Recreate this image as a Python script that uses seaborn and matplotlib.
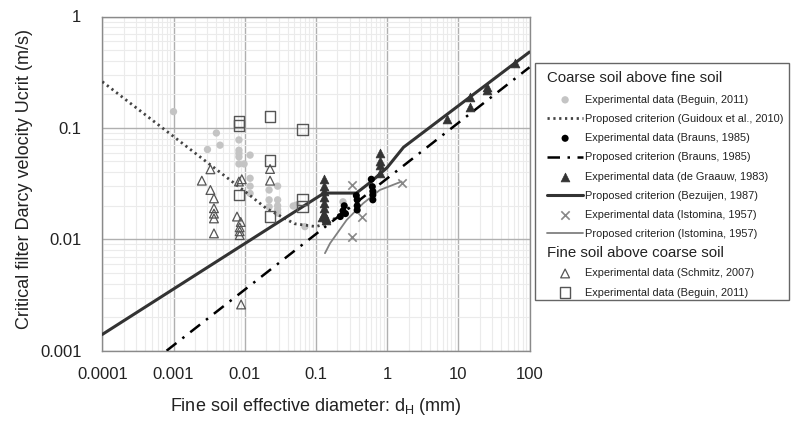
import numpy as np
import pandas as pd
import matplotlib
matplotlib.use("Agg")
import matplotlib.pyplot as plt
import seaborn as sns
from matplotlib.patches import Rectangle
from matplotlib.ticker import FixedLocator, NullFormatter, LogLocator

# ---------------- data ----------------
beg_coarse_x = [0.001, 0.004, 0.0045, 0.003, 0.0083, 0.0083, 0.0083, 0.0083, 0.0083, 0.0098,
                0.0119, 0.0119, 0.0119, 0.0119, 0.022, 0.022, 0.022, 0.029, 0.029, 0.029,
                0.029, 0.029, 0.0535, 0.048, 0.07, 0.24]
beg_coarse_y = [0.14, 0.09, 0.07, 0.064, 0.078, 0.063, 0.059, 0.055, 0.0475, 0.0475,
                0.057, 0.0353, 0.030, 0.0258, 0.0277, 0.0226, 0.0196, 0.030, 0.0226, 0.020,
                0.0185, 0.0172, 0.0203, 0.0199, 0.013, 0.0217]

guid_x = [0.0001, 0.01, 0.02, 0.05, 0.1, 0.15, 0.3]
guid_y = [0.26, 0.027, 0.019, 0.0138, 0.013, 0.014, 0.0195]

brauns_x = [0.22, 0.24, 0.25, 0.26, 0.37, 0.38, 0.38, 0.38, 0.6, 0.62, 0.63, 0.63, 0.63]
brauns_y = [0.016, 0.018, 0.020, 0.017, 0.0247, 0.0226, 0.020, 0.0183, 0.0346, 0.0297, 0.027, 0.025, 0.0226]

brauns_crit_x = [0.0008, 100]
brauns_crit_y = [0.001, 0.35]

graauw_x = [0.13, 0.13, 0.13, 0.13, 0.13, 0.13, 0.13, 0.14, 0.12, 0.14,
            0.8, 0.8, 0.8, 0.8, 6.9, 14.6, 14.6, 25.5, 25.5, 62]
graauw_y = [0.0346, 0.030, 0.027, 0.024, 0.021, 0.019, 0.017, 0.0149, 0.016, 0.0155,
            0.060, 0.050, 0.046, 0.039, 0.119, 0.19, 0.155, 0.234, 0.22, 0.38]

bez_x = [0.0001, 0.13, 0.37, 0.6, 1.0, 1.7, 100]
bez_y = [0.0014, 0.026, 0.026, 0.033, 0.044, 0.067, 0.48]

istom_x = [0.32, 0.44, 0.32, 1.6]
istom_y = [0.031, 0.016, 0.0104, 0.032]

istom_crit_x = [0.134, 0.158, 0.27, 0.46, 0.79, 1.6]
istom_crit_y = [0.0075, 0.0092, 0.0149, 0.021, 0.0277, 0.033]

schmitz_x = [0.0033, 0.0025, 0.0033, 0.0037, 0.0037, 0.0037, 0.0037, 0.0037,
             0.0083, 0.0091, 0.0078, 0.0088, 0.0085, 0.0085, 0.0085, 0.0089, 0.0227, 0.0227]
schmitz_y = [0.0425, 0.0336, 0.0277, 0.0233, 0.019, 0.017, 0.0154, 0.0113,
             0.033, 0.0346, 0.016, 0.0143, 0.0128, 0.0109, 0.0118, 0.0026, 0.0428, 0.0336]

beg_fine_x = [0.0083, 0.0083, 0.0083, 0.0227, 0.0227, 0.0227, 0.0644, 0.0644, 0.0644]
beg_fine_y = [0.115, 0.105, 0.025, 0.126, 0.0508, 0.016, 0.096, 0.0229, 0.0196]

x_ticks = [0.0001, 0.001, 0.01, 0.1, 1, 10, 100]
x_tick_labels = ["0.0001", "0.001", "0.01", "0.1", "1", "10", "100"]
y_ticks = [0.001, 0.01, 0.1, 1]
y_tick_labels = ["0.001", "0.01", "0.1", "1"]

# ---------------- style ----------------
sns.set_theme(style="white")
plt.rcParams['font.family'] = ['Liberation Sans', 'DejaVu Sans']
plt.rcParams['text.color'] = '#222222'
plt.rcParams['axes.labelcolor'] = '#222222'
plt.rcParams['xtick.color'] = '#222222'
plt.rcParams['ytick.color'] = '#222222'

fig = plt.figure(figsize=(7.91, 4.21), dpi=100)
ax = fig.add_axes([102.3 / 791, 1 - 350.7 / 421, (529.5 - 102.3) / 791, (350.7 - 16.5) / 421])
ax.set_xscale('log')
ax.set_yscale('log')
ax.set_xlim(0.0001, 100)
ax.set_ylim(0.001, 1)

# grids
ax.xaxis.set_minor_locator(LogLocator(base=10, subs=np.arange(2, 10)))
ax.yaxis.set_minor_locator(LogLocator(base=10, subs=np.arange(2, 10)))
ax.xaxis.set_minor_formatter(NullFormatter())
ax.yaxis.set_minor_formatter(NullFormatter())
ax.grid(True, which='minor', color='#ebebeb', linewidth=0.8, zorder=0)
ax.grid(True, which='major', color='#b0b0b0', linewidth=1.0, zorder=0)
ax.set_axisbelow(True)
for s in ax.spines.values():
    s.set_color('#8a8a8a')
    s.set_linewidth(1.0)

# ---------------- marks ----------------
sns.scatterplot(x=beg_coarse_x, y=beg_coarse_y, ax=ax, marker='o', s=28, color='#c4c4c4',
                edgecolor='none', linewidth=0, label='Experimental data (Beguin, 2011)', zorder=3)
sns.lineplot(x=guid_x, y=guid_y, ax=ax, sort=False, estimator=None, color='#444444',
             linewidth=2.0, linestyle=(0, (0.8, 1.3)),
             label='Proposed criterion (Guidoux et al., 2010)', zorder=4)
sns.scatterplot(x=brauns_x, y=brauns_y, ax=ax, marker='o', s=26, color='black',
                edgecolor='none', linewidth=0, label='Experimental data (Brauns, 1985)', zorder=5)
sns.lineplot(x=brauns_crit_x, y=brauns_crit_y, ax=ax, sort=False, estimator=None, color='black',
             linewidth=1.8, linestyle=(0, (5, 3, 1, 3)),
             label='Proposed criterion (Brauns, 1985)', zorder=4)
sns.scatterplot(x=graauw_x, y=graauw_y, ax=ax, marker='^', s=40, color='#333333',
                edgecolor='#333333', linewidth=0.5, label='Experimental data (de Graauw, 1983)', zorder=5)
sns.lineplot(x=bez_x, y=bez_y, ax=ax, sort=False, estimator=None, color='#333333',
             linewidth=2.2, label='Proposed criterion (Bezuijen, 1987)', zorder=4)
sns.scatterplot(x=istom_x, y=istom_y, ax=ax, marker='x', s=36, color='#888888',
                linewidth=1.2, label='Experimental data (Istomina, 1957)', zorder=5)
sns.lineplot(x=istom_crit_x, y=istom_crit_y, ax=ax, sort=False, estimator=None, color='#808080',
             linewidth=1.3, label='Proposed criterion (Istomina, 1957)', zorder=4)
sns.scatterplot(x=schmitz_x, y=schmitz_y, ax=ax, marker='^', s=40, facecolor='none',
                edgecolor='#555555', linewidth=0.9, label='Experimental data (Schmitz, 2007)', zorder=5)
sns.scatterplot(x=beg_fine_x, y=beg_fine_y, ax=ax, marker='s', s=60, facecolor='none',
                edgecolor='#555555', linewidth=1.0, label='Experimental data (Beguin, 2011)', zorder=5)

# ---------------- ticks / labels ----------------
ax.xaxis.set_major_locator(FixedLocator(x_ticks))
ax.yaxis.set_major_locator(FixedLocator(y_ticks))
ax.set_xticklabels(x_tick_labels)
ax.set_yticklabels(y_tick_labels)
ax.tick_params(axis='both', which='major', labelsize=12, length=5, width=1,
               color='#8a8a8a', direction='out')
ax.tick_params(axis='x', which='major', pad=7)
ax.tick_params(axis='y', which='major', pad=10)
ax.tick_params(which='minor', length=0)
ax.set_xlabel('Fine soil effective diameter: d$_\\mathregular{H}$ (mm)', fontsize=13, labelpad=10)
ax.set_ylabel('Critical filter Darcy velocity Ucrit (m/s)', fontsize=13, labelpad=5)
ax.yaxis.label.set_y(0.515)

# ---------------- legend ----------------
handles, labels = ax.get_legend_handles_labels()
if ax.get_legend():
    ax.get_legend().remove()

common = dict(frameon=False, fontsize=7.9, handlelength=3.3, handletextpad=0.2,
              borderaxespad=0, borderpad=0, title_fontsize=10.8, alignment='left',
              labelspacing=0.84)
leg1 = fig.legend(handles[:8], labels[:8], loc='upper left',
                  bbox_to_anchor=(547 / 791, 1 - 71 / 421),
                  title='Coarse soil above fine soil', **common)
leg1._legend_box.sep = 7
leg2 = fig.legend(handles[8:], labels[8:], loc='upper left',
                  bbox_to_anchor=(547 / 791, 1 - 246 / 421),
                  title='Fine soil above coarse soil', **common)
leg2._legend_box.sep = 6

fig.patches.append(Rectangle((535 / 791, 1 - 300 / 421), (789 - 535) / 791, (300 - 63) / 421,
                             transform=fig.transFigure, fill=False, edgecolor='#666666',
                             linewidth=1.0, zorder=10))

fig.savefig('out.png', dpi=100)
